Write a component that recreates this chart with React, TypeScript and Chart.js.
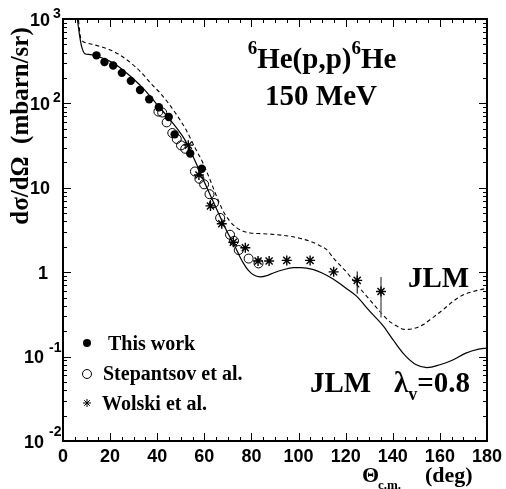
import React, { useEffect, useRef } from "react";
import { Chart, registerables } from "chart.js";

Chart.register(...registerables);

// ---- axis definitions ----
const xTickLabels = [0, 20, 40, 60, 80, 100, 120, 140, 160, 180];
const xMinorStep = 5;
const yDecades = [-2, -1, 0, 1, 2, 3];

// ---- data: "This work" ----
const thisWorkTheta = [14.2, 17.6, 21.3, 25.0, 28.8, 32.7, 36.6, 40.7, 44.9, 47.4, 54.0, 58.9];
const thisWorkXs = [371, 309, 281, 230, 185, 144, 112, 90, 69, 43, 25.5, 16.8];

// ---- data: Stepantsov et al. ----
const stepTheta = [40.5, 42.1, 44.0, 46.4, 48.3, 50.1, 51.9, 56.0, 57.9, 59.9, 62.2, 64.1, 66.7, 70.9, 72.6, 74.6, 78.8, 83.0];
const stepXs = [80, 78, 59.6, 44.6, 37.9, 31.8, 29, 15.6, 12.8, 11.0, 8.4, 6.6, 4.4, 2.78, 2.35, 1.83, 1.45, 1.27];

// ---- data: Wolski et al. ----
const wolskiTheta = [53.2, 57.7, 62.6, 67.4, 72.3, 77.4, 82.8, 87.5, 95.0, 104.9, 114.9, 124.9, 135.0];
const wolskiXs = [32, 14.2, 6.1, 3.75, 2.26, 1.95, 1.36, 1.36, 1.38, 1.38, 1.01, 0.8, 0.59];
const wolskiErrTheta = [124.9, 135.0];
const wolskiErrLow = [0.557, 0.29];
const wolskiErrHigh = [1.02, 0.88];

// ---- curve: JLM lambda_v = 0.8 (solid) ----
const solidTheta = [4, 6.1, 7.0, 7.9, 9.3, 11, 12.9, 16, 20, 23.5, 27, 30.5, 34.1, 37.6, 41.2, 44.7, 48.3, 52, 56, 59, 62.5, 66.6, 70, 72.3, 74.5, 76.5, 78.7, 80.8, 83.6, 86.5, 89.3, 93.5, 97.8, 101, 106, 110, 114.7, 120, 124.6, 130, 136, 140, 145, 150, 154.5, 160, 165, 171, 176, 180];
const solidXs = [3000, 1000, 650, 473, 388, 380, 376, 350, 315, 274, 229, 188, 150, 116, 88, 68, 51, 36, 21, 13.5, 8.2, 4.6, 2.9, 2.22, 1.65, 1.29, 1.05, 0.93, 0.88, 0.91, 0.98, 1.07, 1.13, 1.13, 1.08, 0.98, 0.83, 0.65, 0.52, 0.35, 0.23, 0.16, 0.105, 0.08, 0.074, 0.08, 0.09, 0.11, 0.122, 0.126];

// ---- curve: JLM (dashed) ----
const dashTheta = [4, 6.5, 7.5, 10, 12.9, 16, 19.8, 23.5, 27, 30.5, 34.1, 37.5, 41.2, 44.8, 48.3, 52, 56, 59.3, 62.4, 66, 68.5, 70.9, 73.5, 76.5, 79.4, 83, 86.5, 91, 96.4, 100.5, 104.9, 108.5, 111.9, 115, 120.4, 124.6, 130, 134.6, 138, 141.7, 145, 149, 153, 157, 161.4, 165.5, 170, 175, 178.4, 180];
const dashXs = [3000, 1000, 600, 520, 497, 470, 433, 385, 330, 275, 219, 170, 133, 100, 73, 50, 30, 20, 12.5, 7, 5, 4.0, 3.4, 3.05, 2.92, 2.87, 2.84, 2.78, 2.66, 2.52, 2.32, 2.1, 1.85, 1.45, 1.0, 0.72, 0.48, 0.34, 0.27, 0.23, 0.21, 0.215, 0.24, 0.29, 0.36, 0.45, 0.54, 0.6, 0.63, 0.65];

const pts = (xs: number[], ys: number[]) => xs.map((x, i) => ({ x, y: ys[i] }));

const SERIF = '"Liberation Serif", "Times New Roman", serif';
const SANS = '"Liberation Sans", Arial, sans-serif';

export default function App() {
  const ref = useRef<HTMLCanvasElement>(null);

  useEffect(() => {
    const canvas = ref.current!;

    const framePlugin = {
      id: "rootFrame",
      afterDraw(chart: any) {
        const ctx: CanvasRenderingContext2D = chart.ctx;
        const { left, right, top, bottom } = chart.chartArea;
        const xs = chart.scales.x;
        const ys = chart.scales.y;
        ctx.save();
        ctx.strokeStyle = "#000";
        ctx.fillStyle = "#000";

        // frame
        ctx.lineWidth = 2;
        ctx.strokeRect(left, top, right - left, bottom - top);

        // ticks
        ctx.lineWidth = 1;
        ctx.beginPath();
        const xmax = xTickLabels[xTickLabels.length - 1];
        for (let v = xTickLabels[0]; v <= xmax; v += xMinorStep) {
          const px = Math.round(xs.getPixelForValue(v)) + 0.5;
          const len = xTickLabels.includes(v) ? 8 : 4;
          ctx.moveTo(px, bottom);
          ctx.lineTo(px, bottom - len);
          ctx.moveTo(px, top);
          ctx.lineTo(px, top + len);
        }
        for (const d of yDecades) {
          for (let m = 1; m <= 9; m++) {
            if (d === yDecades[yDecades.length - 1] && m > 1) break;
            const py = Math.round(ys.getPixelForValue(m * Math.pow(10, d))) + 0.5;
            const len = m === 1 ? 8 : 4;
            ctx.moveTo(left, py);
            ctx.lineTo(left + len, py);
            ctx.moveTo(right, py);
            ctx.lineTo(right - len, py);
          }
        }
        ctx.stroke();

        // x tick labels
        ctx.font = `bold 18px ${SANS}`;
        ctx.textAlign = "center";
        ctx.textBaseline = "alphabetic";
        for (const v of xTickLabels) {
          ctx.fillText(String(v), xs.getPixelForValue(v), 462);
        }

        // y tick labels
        for (const d of yDecades) {
          const py = ys.getPixelForValue(Math.pow(10, d));
          ctx.textAlign = "right";
          ctx.font = `bold 18px ${SANS}`;
          if (d === 0) {
            ctx.fillText("1", 48, py + 6.5);
          } else if (d === 1) {
            ctx.fillText("10", 50, py + 6.5);
          } else if (d > 1) {
            ctx.fillText("10", 50, py + 6.5);
            ctx.textAlign = "left";
            ctx.font = `bold 14px ${SANS}`;
            ctx.fillText(String(d), 53, py - 1);
          } else {
            ctx.fillText("10", 44, py + 6.5);
            ctx.textAlign = "left";
            ctx.font = `bold 14px ${SANS}`;
            ctx.fillText(String(d), 49, py - 5);
          }
        }

        // y title
        ctx.save();
        ctx.translate(22, 126);
        ctx.rotate(-Math.PI / 2);
        ctx.textAlign = "center";
        ctx.textBaseline = "middle";
        ctx.font = `bold 25px ${SERIF}`;
        ctx.fillText("d\u03C3/d\u03A9  (mbarn/sr)", 0, 0);
        ctx.restore();

        // x title
        ctx.textAlign = "left";
        ctx.textBaseline = "alphabetic";
        ctx.font = `bold 22px ${SERIF}`;
        ctx.fillText("\u0398", 362, 482);
        ctx.font = `bold 13px ${SERIF}`;
        ctx.fillText("c.m.", 378, 489);
        ctx.font = `bold 22px ${SERIF}`;
        ctx.fillText("(deg)", 425, 482);

        // reaction label
        const big = `bold 29px ${SERIF}`;
        const sup = `bold 19px ${SERIF}`;
        const parts: [string, string, number][] = [
          ["6", sup, -14],
          ["He(p,p)", big, 0],
          ["6", sup, -14],
          ["He", big, 0],
        ];
        let total = 0;
        for (const [t, f] of parts) {
          ctx.font = f;
          total += ctx.measureText(t).width;
        }
        let cx = 322 - total / 2;
        for (const [t, f, dy] of parts) {
          ctx.font = f;
          ctx.fillText(t, cx, 68 + dy);
          cx += ctx.measureText(t).width;
        }
        ctx.font = big;
        ctx.textAlign = "center";
        ctx.fillText("150 MeV", 321, 105);

        // curve labels
        ctx.textAlign = "left";
        ctx.font = big;
        ctx.fillText("JLM", 408, 287);
        ctx.fillText("JLM", 310, 392);
        ctx.fillText("\u03BB", 394, 392);
        const lw = ctx.measureText("\u03BB").width;
        ctx.font = `bold 18px ${SERIF}`;
        ctx.fillText("v", 394 + lw, 400);
        const vw = ctx.measureText("v").width;
        ctx.font = big;
        ctx.fillText("=0.8", 394 + lw + vw, 392);

        // legend
        ctx.font = `bold 20px ${SERIF}`;
        ctx.fillText("This work", 108, 350);
        ctx.fillText("Stepantsov et al.", 103, 380);
        ctx.fillText("Wolski et al.", 102, 410);
        // markers
        ctx.beginPath();
        ctx.arc(87, 343, 4, 0, Math.PI * 2);
        ctx.fill();
        ctx.beginPath();
        ctx.lineWidth = 1;
        ctx.arc(87, 374, 4.5, 0, Math.PI * 2);
        ctx.stroke();
        ctx.beginPath();
        const sx = 87, sy = 403, r = 4;
        ctx.moveTo(sx - r, sy); ctx.lineTo(sx + r, sy);
        ctx.moveTo(sx, sy - r); ctx.lineTo(sx, sy + r);
        const rr = r * 0.707;
        ctx.moveTo(sx - rr, sy - rr); ctx.lineTo(sx + rr, sy + rr);
        ctx.moveTo(sx - rr, sy + rr); ctx.lineTo(sx + rr, sy - rr);
        ctx.stroke();

        ctx.restore();
      },
    };

    const errDatasets = wolskiErrTheta.map((t, i) => ({
      type: "line" as const,
      data: [
        { x: t, y: wolskiErrLow[i] },
        { x: t, y: wolskiErrHigh[i] },
      ],
      borderColor: i === 0 ? "#000" : "#666",
      borderWidth: i === 0 ? 1 : 1.5,
      pointRadius: 0,
      showLine: true,
      order: 3,
    }));

    const chart = new Chart(canvas, {
      type: "scatter",
      data: {
        datasets: [
          {
            type: "line",
            data: pts(solidTheta, solidXs),
            borderColor: "#000",
            borderWidth: 1.2,
            pointRadius: 0,
            cubicInterpolationMode: "monotone",
            order: 5,
          } as any,
          {
            type: "line",
            data: pts(dashTheta, dashXs),
            borderColor: "#000",
            borderWidth: 1.1,
            borderDash: [4, 3],
            pointRadius: 0,
            cubicInterpolationMode: "monotone",
            order: 4,
          } as any,
          ...errDatasets,
          {
            data: pts(stepTheta, stepXs),
            pointStyle: "circle",
            pointRadius: 4.5,
            backgroundColor: "rgba(0,0,0,0)",
            borderColor: "#000",
            borderWidth: 1,
            order: 2,
          },
          {
            data: pts(wolskiTheta, wolskiXs),
            pointStyle: "star",
            pointRadius: 5,
            borderColor: "#000",
            borderWidth: 1.4,
            order: 1,
          },
          {
            data: pts(thisWorkTheta, thisWorkXs),
            pointStyle: "circle",
            pointRadius: 4.2,
            backgroundColor: "#000",
            borderColor: "#000",
            borderWidth: 0,
            order: 0,
          },
        ],
      },
      options: {
        animation: false,
        responsive: false,
        maintainAspectRatio: false,
        devicePixelRatio: 1,
        layout: { padding: { left: 63, right: 19, top: 19, bottom: 48 } },
        scales: {
          x: { type: "linear", min: 0, max: 180, display: false },
          y: { type: "logarithmic", min: 0.01, max: 1000, display: false },
        },
        plugins: {
          legend: { display: false },
          tooltip: { enabled: false },
        },
      },
      plugins: [framePlugin],
    });

    return () => chart.destroy();
  }, []);

  return (
    <div style={{ position: "fixed", left: 0, top: 0, width: 506, height: 489, background: "#fff" }}>
      <canvas ref={ref} width={506} height={489} style={{ display: "block", width: 506, height: 489 }} />
    </div>
  );
}
